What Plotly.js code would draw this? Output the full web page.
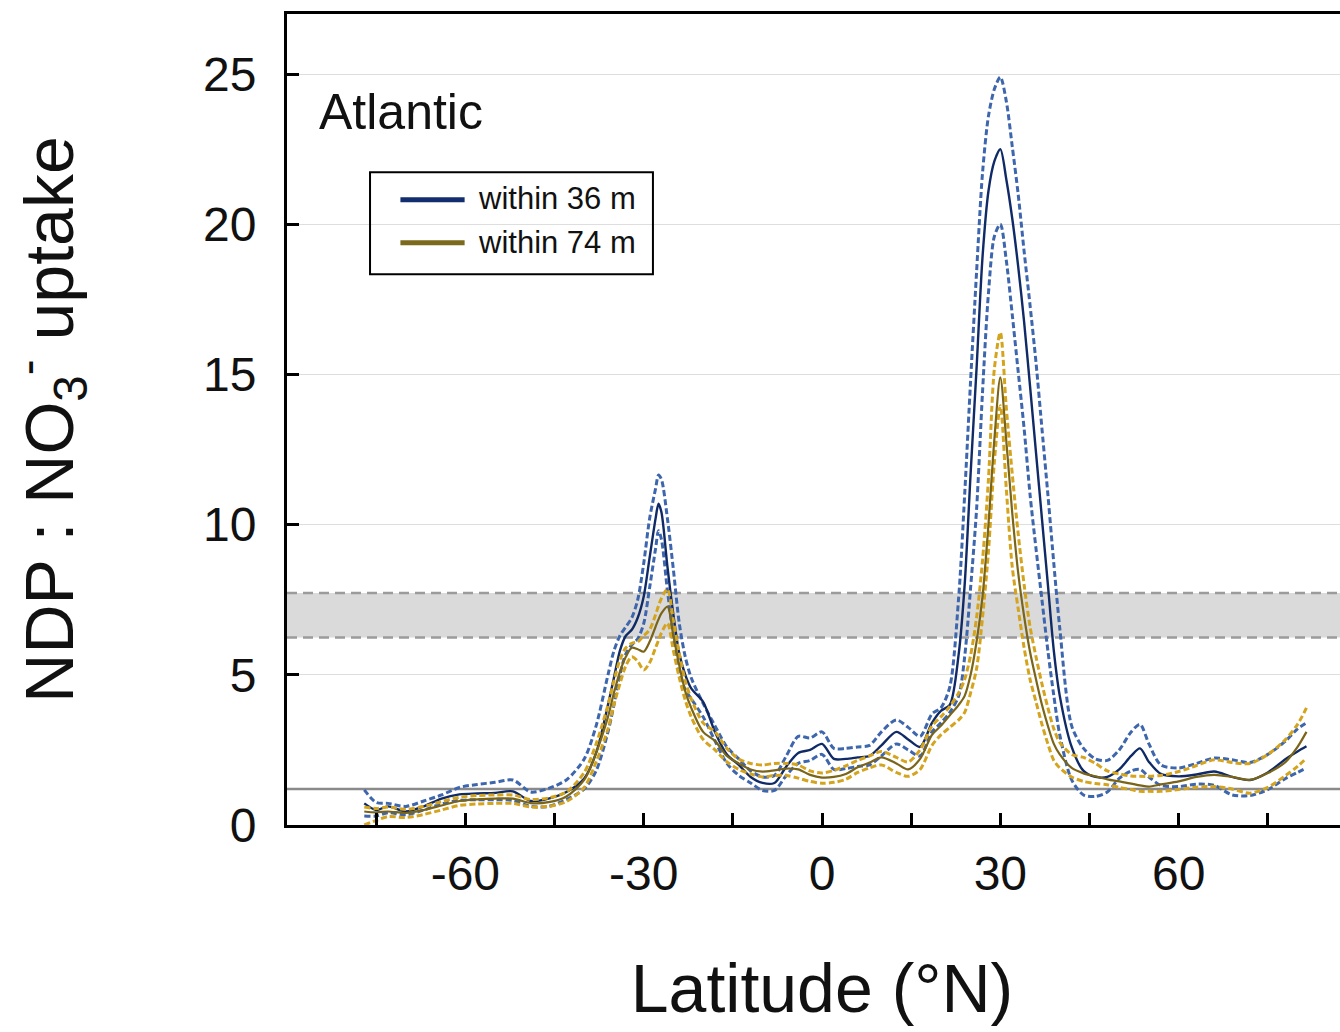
<!DOCTYPE html>
<html>
<head>
<meta charset="utf-8">
<script src="https://cdn.plot.ly/plotly-3.0.1.min.js"></script>
<style>
html,body{margin:0;padding:0;overflow:hidden;background:#fff;}
#chart{width:1360px;height:1032px;}
</style>
</head>
<body>
<div id="chart"></div>
<script>
// Latitude (°N)
const lat = [
  -77,-75,-73,-70,-67,-64,-61,-58,-55,-52,
  -49,-46,-43,-40,-38,-36,-35,-34,-33,-32,
  -31,-30,-29,-28,-27.5,-27,-26,-25,-24,-23,
  -22,-20,-18,-16,-14,-12,-10,-8,-6,-4,
  -2,0,2,4,6,8,10,12.5,14.5,16.5,
  18.5,20,21.5,23,24,25,26,27,28,29,
  30,31,32,33,34,35,36,37,38,39,
  40,42,44,46,48,50,52,53.5,55,57,
  60,63,66,69,72,75,78,80,81.5
];
// within 36 m : mean, upper and lower bound
const within36 = [
  0.72,0.50,0.62,0.45,0.62,0.88,1.02,1.05,1.07,1.12,
  0.80,0.88,1.10,1.55,2.4,4.0,4.9,5.8,6.3,6.5,
  6.9,7.6,8.9,10.2,10.7,10.4,8.6,7.0,5.7,5.0,
  4.55,4.1,3.1,2.35,2.0,1.6,1.4,1.4,1.95,2.4,
  2.5,2.7,2.2,2.2,2.25,2.3,2.65,3.1,2.85,2.6,
  3.4,3.8,4.0,5.7,8.0,11.7,15.2,18.9,21.1,22.1,
  22.5,21.5,20.2,18.6,16.75,14.6,12.4,10.2,8.0,5.8,
  4.3,2.6,1.8,1.6,1.6,1.85,2.3,2.55,2.1,1.7,
  1.62,1.68,1.78,1.6,1.5,1.75,2.2,2.45,2.62
];
const within36Upper = [
  1.17,0.75,0.72,0.62,0.80,1.0,1.25,1.35,1.42,1.50,
  1.10,1.22,1.50,2.2,3.3,5.0,5.8,6.3,6.6,6.9,
  7.5,8.7,10.2,11.2,11.65,11.5,10.2,8.5,6.7,5.6,
  4.9,4.05,3.3,2.6,2.2,1.8,1.6,1.65,2.3,2.95,
  2.9,3.1,2.55,2.55,2.6,2.65,3.1,3.5,3.25,2.95,
  3.7,3.9,4.6,7.6,11.0,14.8,18.4,21.7,23.6,24.5,
  24.9,24.1,22.6,21.0,19.1,17.3,15.4,13.2,11.0,8.7,
  6.55,3.3,2.55,2.2,2.15,2.5,3.1,3.35,2.7,2.0,
  1.9,2.05,2.23,2.17,2.08,2.35,2.8,3.2,3.4
];
const within36Lower = [
  0.30,0.30,0.41,0.34,0.50,0.70,0.82,0.84,0.84,0.82,
  0.62,0.62,0.85,1.2,1.8,3.1,4.0,5.0,5.7,6.0,
  6.2,6.7,7.9,9.2,9.8,9.5,7.8,6.3,5.1,4.5,
  4.2,3.6,2.8,2.05,1.65,1.4,1.15,1.15,1.65,2.05,
  2.15,2.35,1.85,1.88,1.95,2.0,2.3,2.7,2.5,2.3,
  3.1,3.4,3.75,4.3,5.6,7.9,10.5,14.4,17.7,19.6,
  20.0,18.8,17.0,15.1,13.2,11.0,9.2,7.5,5.8,4.3,
  3.0,1.5,1.0,0.95,1.1,1.55,1.8,1.85,1.6,1.32,
  1.28,1.36,1.32,1.0,0.98,1.18,1.55,1.75,1.9
];
// within 74 m : mean, upper and lower bound
const within74 = [
  0.45,0.42,0.45,0.40,0.50,0.65,0.80,0.85,0.88,0.88,
  0.73,0.76,0.95,1.5,2.4,3.6,4.4,5.1,5.6,5.9,
  5.85,5.77,6.1,6.6,6.85,7.05,7.27,6.3,5.3,4.45,
  3.9,3.1,2.8,2.3,2.05,1.85,1.78,1.82,1.88,1.85,
  1.67,1.58,1.6,1.7,1.92,2.08,2.25,2.05,1.85,2.2,
  3.0,3.3,3.65,4.0,4.3,5.0,6.1,7.6,10.0,12.85,
  14.9,12.8,10.4,8.4,6.95,5.76,4.85,4.0,3.3,2.7,
  2.35,1.9,1.72,1.62,1.52,1.45,1.38,1.32,1.28,1.35,
  1.45,1.6,1.67,1.6,1.5,1.73,2.1,2.6,3.1
];
const within74Upper = [
  0.6,0.55,0.6,0.52,0.62,0.78,0.92,0.98,1.0,1.0,
  0.85,0.9,1.1,1.75,2.7,4.0,4.8,5.5,5.9,6.05,
  6.1,6.3,6.5,7.0,7.3,7.55,7.85,6.8,5.7,4.8,
  4.2,3.4,3.1,2.55,2.2,2.05,2.0,2.05,2.05,2.0,
  1.8,1.73,1.82,1.97,2.15,2.3,2.45,2.25,2.1,2.5,
  3.3,3.6,3.95,4.4,4.85,5.65,6.9,8.8,11.5,15.2,
  16.4,13.9,11.7,9.7,8.0,6.6,5.6,4.7,3.9,3.2,
  2.75,2.35,2.25,2.05,1.8,1.7,1.63,1.62,1.62,1.65,
  1.78,1.98,2.17,2.08,2.05,2.35,2.85,3.35,3.9
];
const within74Lower = [
  0.0,0.15,0.28,0.25,0.35,0.5,0.65,0.7,0.72,0.72,
  0.6,0.62,0.78,1.25,2.1,3.2,4.0,4.7,5.3,5.6,
  5.45,5.16,5.4,5.9,6.15,6.4,6.72,5.8,4.9,4.15,
  3.6,2.85,2.5,2.1,1.85,1.7,1.6,1.65,1.65,1.56,
  1.45,1.39,1.42,1.52,1.75,1.9,2.0,1.75,1.62,1.85,
  2.65,3.0,3.25,3.5,3.75,4.4,5.2,6.9,9.1,12.1,
  13.96,11.2,8.6,7.2,5.9,4.85,4.1,3.35,2.7,2.15,
  1.9,1.6,1.45,1.38,1.34,1.25,1.18,1.12,1.12,1.12,
  1.18,1.26,1.28,1.2,1.06,1.25,1.65,1.95,2.23
];
// reference band and baseline
const bandLow = 6.24;
const bandHigh = 7.72;
const baseline = 1.2;
// ticks
const xTickVals = [-90,-75,-60,-45,-30,-15,0,15,30,45,60,75,90];
const xTickText = ['','','-60','','-30','','0','','30','','60','',''];
const yTickVals = [0,5,10,15,20,25];
const seriesNames = ['within 36 m','within 74 m'];

const FONT = 'Arial, "Liberation Sans", Helvetica, sans-serif';
const blueSolid = '#0f2a66', blueDash = '#3e66ad';
const goldSolid = '#7a6418', goldDash = '#d4a41e';
const dashPat = '6px,3px';

function tr(y, color, width, dash){
  return {x: lat, y: y, type:'scatter', mode:'lines',
    line:{color:color, width:width, dash:dash, shape:'spline', smoothing:0.8},
    showlegend:false, hoverinfo:'skip'};
}

const data = [
  tr(within36Upper, blueDash, 3, dashPat),
  tr(within36Lower, blueDash, 3, dashPat),
  tr(within36, blueSolid, 2.4, 'solid'),
  tr(within74Upper, goldDash, 3, dashPat),
  tr(within74Lower, goldDash, 3, dashPat),
  tr(within74, goldSolid, 2.2, 'solid')
];

const shapes = [
  {type:'rect', xref:'paper', x0:0, x1:1, yref:'y', y0:bandLow, y1:bandHigh,
   fillcolor:'#dadada', line:{width:0}, layer:'below'},
  {type:'line', xref:'paper', x0:0, x1:1, yref:'y', y0:bandLow, y1:bandLow,
   line:{color:'#9b9b9b', width:2.5, dash:'10px,6px'}, layer:'below'},
  {type:'line', xref:'paper', x0:0, x1:1, yref:'y', y0:bandHigh, y1:bandHigh,
   line:{color:'#9b9b9b', width:2.5, dash:'10px,6px'}, layer:'below'},
  {type:'line', xref:'paper', x0:0, x1:1, yref:'y', y0:baseline, y1:baseline,
   line:{color:'#8a8a8a', width:2.5}, layer:'below'},
  // legend box
  {type:'rect', xref:'paper', yref:'paper', x0:0.0776, x1:0.342, y0:0.679, y1:0.805,
   line:{color:'#000', width:2}, fillcolor:'rgba(255,255,255,0)'},
  {type:'line', xref:'paper', yref:'paper', x0:0.106, x1:0.166, y0:0.771, y1:0.771,
   line:{color:'#132e6e', width:5}},
  {type:'line', xref:'paper', yref:'paper', x0:0.106, x1:0.166, y0:0.718, y1:0.718,
   line:{color:'#7b6a1c', width:5}}
];

const annotations = [
  {text:'Atlantic', xref:'paper', yref:'paper', x:0.028, y:0.879, xanchor:'left', yanchor:'middle',
   showarrow:false, font:{family:FONT, size:50, color:'#111'}},
  {text:seriesNames[0], xref:'paper', yref:'paper', x:0.177, y:0.772, xanchor:'left', yanchor:'middle',
   showarrow:false, font:{family:FONT, size:31, color:'#111'}},
  {text:seriesNames[1], xref:'paper', yref:'paper', x:0.177, y:0.718, xanchor:'left', yanchor:'middle',
   showarrow:false, font:{family:FONT, size:31, color:'#111'}}
];

const layout = {
  width:1360, height:1032,
  margin:{l:287, r:3, t:14, b:207},
  paper_bgcolor:'#fff', plot_bgcolor:'#fff',
  showlegend:false,
  font:{family:FONT, color:'#111'},
  xaxis:{
    range:[-90,90], tickmode:'array', tickvals:xTickVals, ticktext:xTickText,
    ticks:'inside', ticklen:12, tickwidth:3, tickcolor:'#000',
    showline:true, linecolor:'#000', linewidth:3, mirror:true,
    showgrid:false, zeroline:false,
    tickfont:{family:FONT, size:48, color:'#111'},
    ticklabelstandoff:4,
    title:{text:'Latitude (°N)', font:{family:FONT, size:68, color:'#111'}, standoff:66}
  },
  yaxis:{
    range:[0,27], tickmode:'array', tickvals:yTickVals,
    ticks:'inside', ticklen:12, tickwidth:3, tickcolor:'#000',
    showline:true, linecolor:'#000', linewidth:3, mirror:true,
    showgrid:true, gridcolor:'#dedede', gridwidth:1, zeroline:false,
    tickfont:{family:FONT, size:48, color:'#111'},
    ticklabelstandoff:18,
    title:{text:'NDP : NO<sub>3</sub><sup>-</sup> uptake', font:{family:FONT, size:68, color:'#111'}, standoff:108}
  },
  shapes:shapes,
  annotations:annotations
};

Plotly.newPlot('chart', data, layout, {staticPlot:true, displayModeBar:false});
</script>
</body>
</html>
